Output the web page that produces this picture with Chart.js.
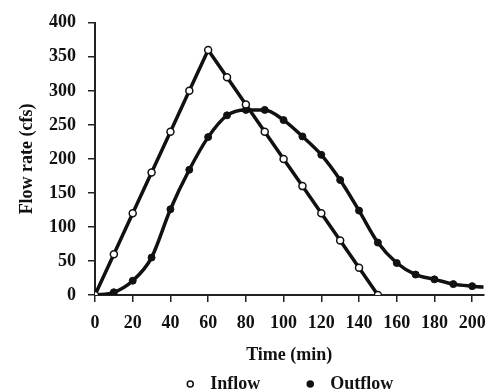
<!DOCTYPE html>
<html lang="en">
<head>
  <meta charset="UTF-8">
  <title>Inflow and Outflow Hydrograph</title>
  <script src="https://cdn.jsdelivr.net/npm/chart.js"></script>
  <style>
    html, body { margin: 0; padding: 0; background: #fff; }
    #wrap { width: 489px; height: 392px; }
  </style>
</head>
<body>
  <div id="wrap"><canvas id="flowChart"></canvas></div>

  <script>
    // time in minutes, 10 min steps
    const inflowTimes = [0, 10, 20, 30, 40, 50, 60, 70, 80, 90, 100, 110, 120, 130, 140, 150];
    const inflowValues = [0, 60, 120, 180, 240, 300, 360, 320, 280, 240, 200, 160, 120, 80, 40, 0];

    const outflowTimes = [0, 10, 20, 30, 40, 50, 60, 70, 80, 90, 100, 110, 120, 130, 140, 150, 160, 170, 180, 190, 200, 210];
    const outflowValues = [0, 4, 21, 55, 126, 184, 232, 264, 272, 272, 257, 233, 206, 169, 124, 77, 47, 30, 23, 16, 13, 11];

    const xTicks = [0, 20, 40, 60, 80, 100, 120, 140, 160, 180, 200];
    const seriesNames = ['Inflow', 'Outflow'];

    const font = { family: 'Liberation Serif', weight: 'bold', size: 18 };
    const ink = '#111';

    const toPoints = (xs, ys) => xs.map((x, i) => ({ x: x, y: ys[i] }));

    // small legend under the axis title: open dot = inflow, filled dot = outflow
    const bottomLegend = {
      id: 'bottomLegend',
      afterDraw(chart) {
        const ctx = chart.ctx;
        const cx = (chart.chartArea.left + chart.chartArea.right) / 2;
        const y = 384;
        const items = [
          { dx: -99, fill: '#fff', text: seriesNames[0] },
          { dx: 21, fill: ink, text: seriesNames[1] }
        ];
        ctx.save();
        ctx.font = 'bold 18px "Liberation Serif"';
        ctx.textBaseline = 'middle';
        ctx.fillStyle = ink;
        items.forEach(it => {
          ctx.beginPath();
          ctx.arc(cx + it.dx, y, 3, 0, Math.PI * 2);
          ctx.fillStyle = it.fill;
          ctx.fill();
          ctx.lineWidth = 1.5;
          ctx.strokeStyle = ink;
          ctx.stroke();
          ctx.fillStyle = ink;
          ctx.fillText(it.text, cx + it.dx + 20, y);
        });
        ctx.restore();
      }
    };

    new Chart(flowChart, {
      type: 'line',
      data: {
        datasets: [{
          label: seriesNames[0],
          data: toPoints(inflowTimes, inflowValues),
          borderColor: ink,
          borderWidth: 3.5,
          tension: 0,
          pointRadius: 3.5,
          pointBackgroundColor: '#fff',
          pointBorderColor: ink,
          pointBorderWidth: 1.5,
          fill: false
        }, {
          label: seriesNames[1],
          data: toPoints(outflowTimes, outflowValues),
          borderColor: ink,
          borderWidth: 3.5,
          cubicInterpolationMode: 'monotone',
          pointRadius: 3.5,
          pointBackgroundColor: ink,
          pointBorderColor: ink,
          pointBorderWidth: 1,
          fill: false
        }]
      },
      options: {
        responsive: true,
        maintainAspectRatio: false,
        animation: false,
        layout: { padding: { top: 17, left: 0, right: 0, bottom: 26 } },
        plugins: {
          tooltip: { enabled: false },
          legend: { display: false }
        },
        scales: {
          x: {
            type: 'linear',
            min: 0,
            max: 206,
            afterBuildTicks: s => { s.ticks = xTicks.map(v => ({ value: v })); },
            afterFit: s => { s.height = 71; s.paddingLeft = 0; s.paddingRight = 0; },
            grid: { display: true, drawOnChartArea: false, tickLength: 7, color: '#222', lineWidth: 1.5 },
            border: { display: true, color: '#222', width: 2 },
            ticks: { color: ink, font: font, padding: 11, maxRotation: 0, autoSkip: false },
            title: { display: true, text: 'Time (min)', color: ink, font: font, padding: { top: 4, bottom: 0 } }
          },
          y: {
            min: 0,
            max: 400,
            afterFit: s => { s.width = 95; },
            grid: { display: true, drawOnChartArea: false, tickLength: 7, color: '#222', lineWidth: 1.5 },
            border: { display: true, color: '#222', width: 2 },
            ticks: { stepSize: 50, color: ink, font: font, padding: 12 },
            title: { display: true, text: 'Flow rate (cfs)', color: ink, font: font, padding: { top: 17, bottom: 0 } }
          }
        }
      },
      plugins: [bottomLegend]
    });
  </script>
</body>
</html>
